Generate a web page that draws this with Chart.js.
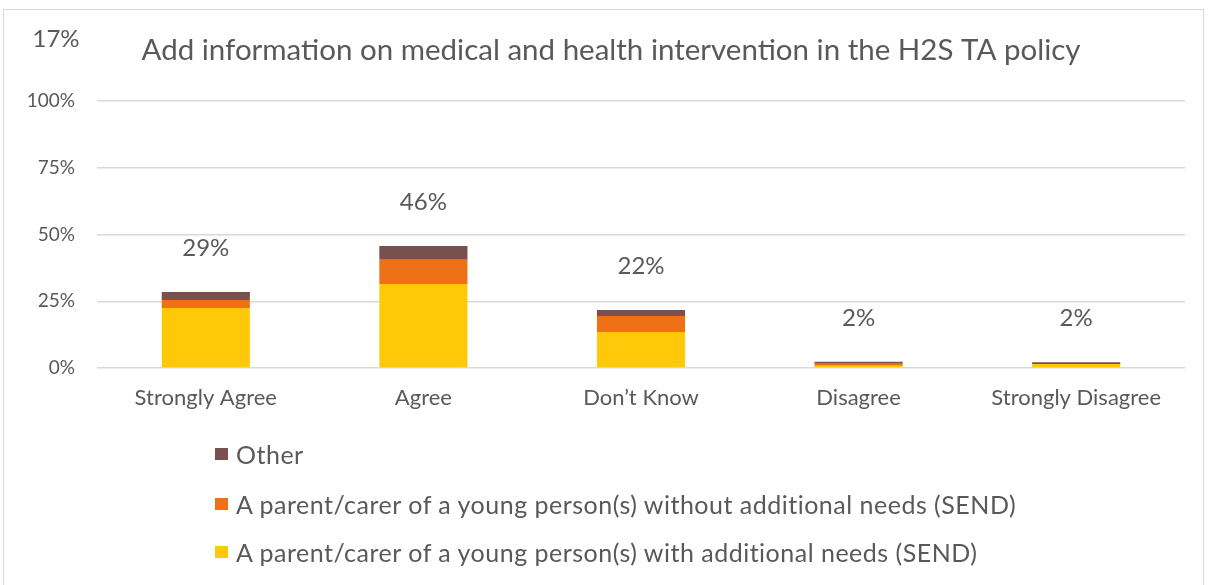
<!DOCTYPE html>
<html>
<head>
<meta charset="utf-8">
<script src="https://cdn.jsdelivr.net/npm/chart.js@4"></script>
<style>
  html, body { margin: 0; padding: 0; background: #fff; }
  #wrap { position: relative; width: 1212px; height: 585px; overflow: hidden; }
  #frame { position: absolute; left: 3px; top: 9px; width: 1201px; height: 600px; border: 1px solid #d9d9d9; box-sizing: border-box; pointer-events: none; }
  #legend { position: absolute; left: 215px; top: 0; font-family: Lato, "Liberation Sans", sans-serif; font-size: 25px; letter-spacing: 0.5px; color: #595959; }
  .item { position: absolute; left: 0; white-space: nowrap; display: flex; align-items: center; height: 30px; }
  .sw { width: 13px; height: 12px; margin-right: 8px; flex: none; }
</style>
</head>
<body>
<div id="wrap">
  <canvas id="c" width="1212" height="585"></canvas>
  <div id="frame"></div>
  <div id="legend"></div>
</div>
<script>
const categories = ['Strongly Agree', 'Agree', 'Don\u2019t Know', 'Disagree', 'Strongly Disagree'];
const withSend = [22.5, 31.5, 13.5, 0.8, 1.5];
const withoutSend = [3, 9, 6, 0.8, 0];
const other = [3, 5.2, 2.2, 0.7, 0.7];
const totalLabels = ['29%', '46%', '22%', '2%', '2%'];
const seriesNames = [
  'A parent/carer of a young person(s) with additional needs (SEND)',
  'A parent/carer of a young person(s) without additional needs (SEND)',
  'Other'
];
const yTicks = [0, 25, 50, 75, 100];
const titleText = 'Add information on medical and health intervention in the H2S TA policy';
const cornerText = '17%';

const colors = ['#FFC90A', '#EE7118', '#794F4F'];
const txt = '#595959';
const FONT = 'Lato, "Liberation Sans", sans-serif';

const datasets = [withSend, withoutSend, other].map((d, i) => ({
  label: seriesNames[i],
  data: d,
  backgroundColor: colors[i],
  borderWidth: 0,
  categoryPercentage: 1,
  barPercentage: 0.405
}));

const extras = {
  id: 'extras',
  afterDatasetsDraw(chart) {
    const ctx = chart.ctx;
    const xs = chart.scales.x, ys = chart.scales.y;
    ctx.save();
    ctx.fillStyle = txt;
    ctx.textAlign = 'center';
    ctx.textBaseline = 'middle';
    ctx.font = '24px ' + FONT;
    categories.forEach((c, i) => {
      const sum = chart.data.datasets.reduce((s, ds) => s + ds.data[i], 0);
      ctx.fillText(totalLabels[i], xs.getPixelForValue(i), ys.getPixelForValue(sum) - 44);
    });
    ctx.fillText(cornerText, 56, 39);
    ctx.font = '29.5px ' + FONT;
    ctx.fillText(titleText, 611, 50);
    ctx.restore();
  }
};

new Chart(document.getElementById('c'), {
  type: 'bar',
  data: { labels: categories, datasets },
  options: {
    responsive: false,
    animation: false,
    layout: { padding: { top: 101, right: 27, left: 0, bottom: 0 } },
    plugins: {
      legend: { display: false },
      tooltip: { enabled: false },
      title: { display: false }
    },
    scales: {
      x: {
        stacked: true,
        grid: { display: false, drawTicks: false },
        border: { display: false },
        ticks: { color: txt, font: { family: FONT, size: 22 }, padding: 17 },
        afterFit(s) { s.height = 217; }
      },
      y: {
        stacked: true,
        min: 0, max: 100,
        afterBuildTicks(s) { s.ticks = yTicks.map(v => ({ value: v })); },
        grid: { color: '#d9d9d9', lineWidth: 1.5, drawTicks: false },
        border: { display: false },
        ticks: { color: txt, font: { family: FONT, size: 19 }, padding: 22, callback: v => v + '%' },
        afterFit(s) { s.width = 97; }
      }
    }
  },
  plugins: [extras]
});

// HTML legend (reverse order as in the reference)
const leg = document.getElementById('legend');
const rowCenters = [454, 504, 552];
[2, 1, 0].forEach((k, r) => {
  const it = document.createElement('div');
  it.className = 'item';
  it.style.top = (rowCenters[r] - 15) + 'px';
  const sw = document.createElement('span');
  sw.className = 'sw';
  sw.style.background = colors[k];
  const t = document.createElement('span');
  t.textContent = seriesNames[k];
  it.appendChild(sw); it.appendChild(t);
  leg.appendChild(it);
});
</script>
</body>
</html>
